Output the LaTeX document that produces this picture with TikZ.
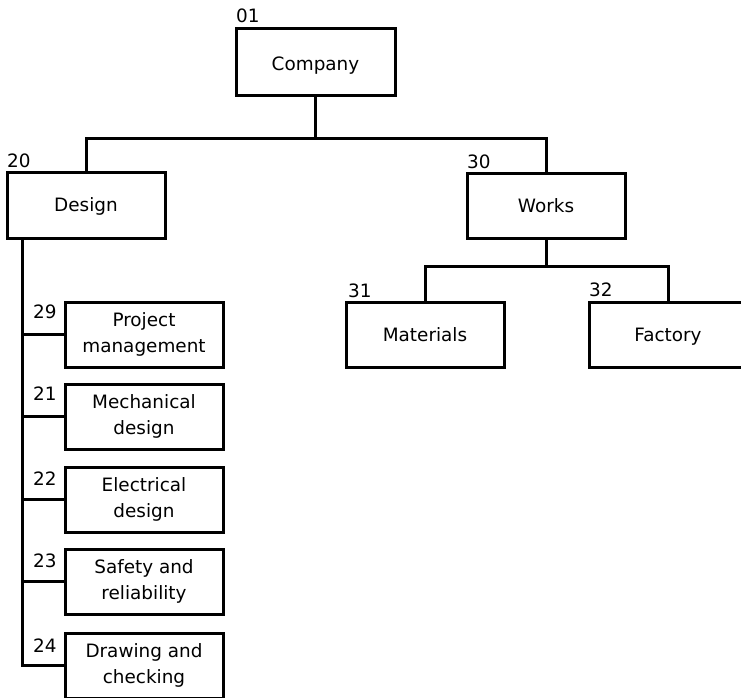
\documentclass[tikz,border=0pt]{standalone}
\usepackage{fontspec}
\setmainfont{DejaVu Sans}
\begin{document}
\begin{tikzpicture}[x=1pt,y=-1pt,
  box/.style={draw=black,line width=3pt,minimum width=158pt,minimum height=65pt,
    inner sep=0pt,align=center,font=\fontsize{18.4}{26}\selectfont},
  single/.style={text depth=0pt},
  num/.style={anchor=base west,inner sep=0pt,font=\fontsize{18.4}{22}\selectfont},
  conn/.style={line width=3pt,line join=miter}]
\useasboundingbox (0,0) rectangle (741,698);
\clip (0,0) rectangle (741,698);
% top-level boxes
\node[box,single,text height=17pt,minimum width=159pt,minimum height=67pt] (company) at (315.5,62.5) {Company};
\node[box,single,minimum height=66pt] (design) at (86,205) {Design};
\node[box,single] (works) at (546,205.5) {Works};
\node[box,single] (materials) at (425,334.5) {Materials};
\node[box,single] (factory) at (668,334.5) {Factory};
% sub boxes
\node[box] (s29) at (144,334.5) {Project\\management};
\node[box] (s21) at (144,416.5) {Mechanical\\design};
\node[box] (s22) at (144,499.5) {Electrical\\design};
\node[box] (s23) at (144,581.5) {Safety and\\reliability};
\node[box] (s24) at (144,665.5) {Drawing and\\checking};
% numbers
\node[num] (n01) at (236,23) {01};
\node[num] (n20) at (7,167) {20};
\node[num] (n30) at (467,168) {30};
\node[num] (n31) at (348,297) {31};
\node[num] (n32) at (589,296) {32};
\node[num] (n29) at (33,318) {29};
\node[num] (n21) at (33,400) {21};
\node[num] (n22) at (33,485) {22};
\node[num] (n23) at (33,567) {23};
\node[num] (n24) at (33,652) {24};
% connectors
\coordinate (bus1) at (0,138);
\coordinate (bus2) at (0,266);
\draw[conn] (company.south) -- (company.south |- bus1);
\draw[conn] (design.north) -- (design.north |- bus1) -- (works.north |- bus1) -- (works.north);
\draw[conn] (works.south) -- (works.south |- bus2);
\draw[conn] (materials.north) -- (materials.north |- bus2) -- (factory.north |- bus2) -- (factory.north);
\coordinate (stem) at ([xshift=17pt]design.south west);
\draw[conn] (stem) |- (s24.west);
\draw[conn] (stem |- s29.west) -- (s29.west);
\draw[conn] (stem |- s21.west) -- (s21.west);
\draw[conn] (stem |- s22.west) -- (s22.west);
\draw[conn] (stem |- s23.west) -- (s23.west);
\end{tikzpicture}
\end{document}
